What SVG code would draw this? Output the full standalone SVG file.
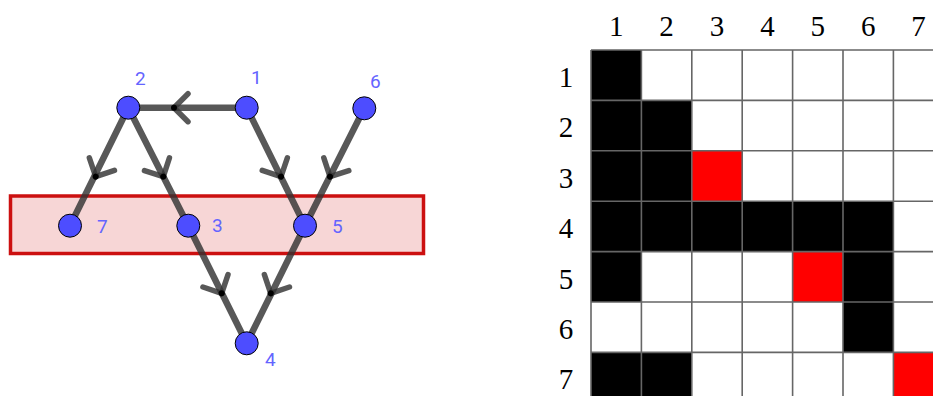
<svg xmlns="http://www.w3.org/2000/svg" width="933" height="396" viewBox="0 0 933 396">
<style>
.edge{stroke:#333;stroke-opacity:0.82;stroke-width:6.5;stroke-linecap:round;fill:none}
.arr{stroke:#333;stroke-opacity:0.82;stroke-width:5.5;stroke-linecap:round;stroke-linejoin:round;fill:none}
.node{fill:#4d4dff;stroke:#000;stroke-width:1}
.lbl{font-family:Roboto,"Liberation Sans",sans-serif;font-size:19px;fill:#6464ff}
.hd{font-family:"Liberation Serif","DejaVu Serif",serif;font-size:29px;fill:#000;text-anchor:middle}
.k{fill:#000}.r{fill:#ff0000}
.grid{stroke:#666;stroke-width:1.6;fill:none}
</style>
<defs>
<g id="ah"><path class="arr" d="M-14,-14 L0,0 L-14,14"/><circle r="3" fill="#000"/></g>
</defs>
<rect x="0" y="0" width="933" height="396" fill="#fff"/>
<rect id="region" x="10.5" y="196" width="413" height="57.5" fill="#cc0000" fill-opacity="0.16" stroke="#cc1010" stroke-width="3.5"/>
<g id="connectors">
<line class="edge" x1="246.7" y1="107.7" x2="128.3" y2="107.7"/>
<line class="edge" x1="128.3" y1="107.7" x2="70" y2="225.7"/>
<line class="edge" x1="128.3" y1="107.7" x2="188.3" y2="225.7"/>
<line class="edge" x1="246.7" y1="107.7" x2="305" y2="225.7"/>
<line class="edge" x1="364.3" y1="108.3" x2="305" y2="225.7"/>
<line class="edge" x1="188.3" y1="225.7" x2="246.7" y2="343.3"/>
<line class="edge" x1="305" y1="225.7" x2="246.7" y2="343.3"/>
<use href="#ah" transform="translate(174,107.7) rotate(180)"/>
<use href="#ah" transform="translate(95.7,176.7) rotate(116.3)"/>
<use href="#ah" transform="translate(163.3,176.7) rotate(63)"/>
<use href="#ah" transform="translate(281,176.7) rotate(63.7)"/>
<use href="#ah" transform="translate(330,176.7) rotate(116.8)"/>
<use href="#ah" transform="translate(221.7,293.3) rotate(63.6)"/>
<use href="#ah" transform="translate(270.7,293.3) rotate(116.4)"/>
</g>
<g id="n1"><circle class="node" cx="246.7" cy="107.7" r="11.5"/><text class="lbl" x="251" y="84">1</text></g>
<g id="n2"><circle class="node" cx="128.3" cy="107.7" r="11.5"/><text class="lbl" x="135" y="85">2</text></g>
<g id="n3"><circle class="node" cx="188.3" cy="225.7" r="11.5"/><text class="lbl" x="212" y="232">3</text></g>
<g id="n4"><circle class="node" cx="246.7" cy="343.3" r="11.5"/><text class="lbl" x="265" y="366">4</text></g>
<g id="n5"><circle class="node" cx="305" cy="225.7" r="11.5"/><text class="lbl" x="332" y="233">5</text></g>
<g id="n6"><circle class="node" cx="364.3" cy="108.3" r="11.5"/><text class="lbl" x="370" y="88">6</text></g>
<g id="n7"><circle class="node" cx="70" cy="225.7" r="11.5"/><text class="lbl" x="97" y="233">7</text></g>
<g id="matrix">
<rect class="k" x="591" y="50" width="50.4" height="50.4"/>
<rect class="k" x="591" y="100.4" width="100.8" height="50.4"/>
<rect class="k" x="591" y="150.8" width="100.8" height="50.4"/>
<rect class="r" x="691.8" y="150.8" width="50.4" height="50.4"/>
<rect class="k" x="591" y="201.2" width="302.4" height="50.4"/>
<rect class="k" x="591" y="251.6" width="50.4" height="50.4"/>
<rect class="r" x="792.6" y="251.6" width="50.4" height="50.4"/>
<rect class="k" x="843" y="251.6" width="50.4" height="50.4"/>
<rect class="k" x="843" y="302" width="50.4" height="50.4"/>
<rect class="k" x="591" y="352.4" width="100.8" height="50.4"/>
<rect class="r" x="893.4" y="352.4" width="50.4" height="50.4"/>
<path class="grid" d="M591,50V396M641.4,50V396M691.8,50V396M742.2,50V396M792.6,50V396M843,50V396M893.4,50V396M591,50H933M591,100.4H933M591,150.8H933M591,201.2H933M591,251.6H933M591,302H933M591,352.4H933"/>
<text class="hd" x="616.2" y="36">1</text>
<text class="hd" x="666.6" y="36">2</text>
<text class="hd" x="717" y="36">3</text>
<text class="hd" x="767.4" y="36">4</text>
<text class="hd" x="817.8" y="36">5</text>
<text class="hd" x="868.2" y="36">6</text>
<text class="hd" x="918.6" y="36">7</text>
<text class="hd" x="566" y="87">1</text>
<text class="hd" x="566" y="137.4">2</text>
<text class="hd" x="566" y="187.8">3</text>
<text class="hd" x="566" y="238.2">4</text>
<text class="hd" x="566" y="288.6">5</text>
<text class="hd" x="566" y="339">6</text>
<text class="hd" x="566" y="389.4">7</text>
</g>
</svg>
